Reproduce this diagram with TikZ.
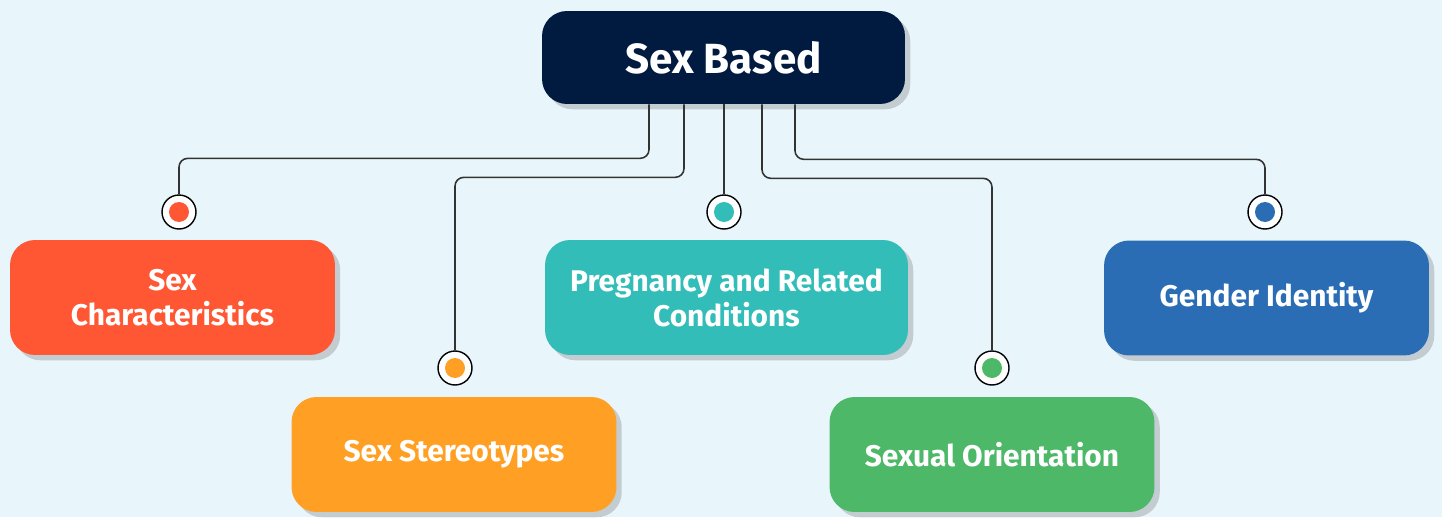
\documentclass[tikz,border=0pt]{standalone}
\usepackage{fontspec}
\setmainfont{Fira Sans}
\usetikzlibrary{shadows}

\definecolor{bgblue}{HTML}{E8F6FB}
\definecolor{navy}{HTML}{001A40}
\definecolor{redorange}{HTML}{FF5733}
\definecolor{amber}{HTML}{FFA024}
\definecolor{teal}{HTML}{33BDB8}
\definecolor{leaf}{HTML}{4DB868}
\definecolor{royal}{HTML}{2A6DB5}

\tikzset{
    card/.style={rounded corners=0.5cm, fill=#1, text=white, align=center,
        font=\bfseries\fontsize{17}{20}\selectfont,
        minimum width=6.5cm, minimum height=2.3cm,
        drop shadow={opacity=0.35, shadow xshift=3pt, shadow yshift=-3pt}},
    knob/.style={circle, draw=black, line width=0.8pt, fill=white, minimum size=0.68cm,
        path picture={\fill[#1] (path picture bounding box.center) circle (0.2cm);}},
    link/.style={draw=black!80, line width=0.9pt, rounded corners=5pt}
}

\begin{document}
\begin{tikzpicture}[x=0.02cm, y=-0.02cm]

    % background
    \fill[bgblue] (0,0) rectangle (1442,517);
    \useasboundingbox (0,0) rectangle (1442,517);

    % draw boxes
    \node[card=navy, minimum width=7.26cm, minimum height=1.86cm,
        font=\bfseries\fontsize{24}{28}\selectfont] (top) at (723.5,57.5) {Sex Based};
    \node[card=redorange] (chars) at (172.5,297.5) {Sex\\Characteristics};
    \node[card=amber] (stereo) at (454,454.5) {Sex Stereotypes};
    \node[card=teal, minimum width=7.26cm] (preg) at (726.5,297.5) {Pregnancy and Related\\Conditions};
    \node[card=leaf] (orient) at (992,454.5) {Sexual Orientation};
    \node[card=royal] (ident) at (1266.5,298) {Gender Identity};

    % draw points
    \node[knob=redorange] (k1) at (179,212) {};
    \node[knob=amber] (k2) at (455,368) {};
    \node[knob=teal] (k3) at (724,212) {};
    \node[knob=leaf] (k4) at (992,368) {};
    \node[knob=royal] (k5) at (1265,212) {};

    % draw connectors
    \draw[link] ([xshift=-1.49cm]top.south) -- ++(0,54) -| (k1.north);
    \draw[link] ([xshift=-0.79cm]top.south) -- ++(0,73) -| (k2.north);
    \draw[link] (top.south -| k3.north) -- (k3.north);
    \draw[link] ([xshift=0.77cm]top.south) -- ++(0,74) -| (k4.north);
    \draw[link] ([xshift=1.43cm]top.south) -- ++(0,55) -| (k5.north);

\end{tikzpicture}
\end{document}
